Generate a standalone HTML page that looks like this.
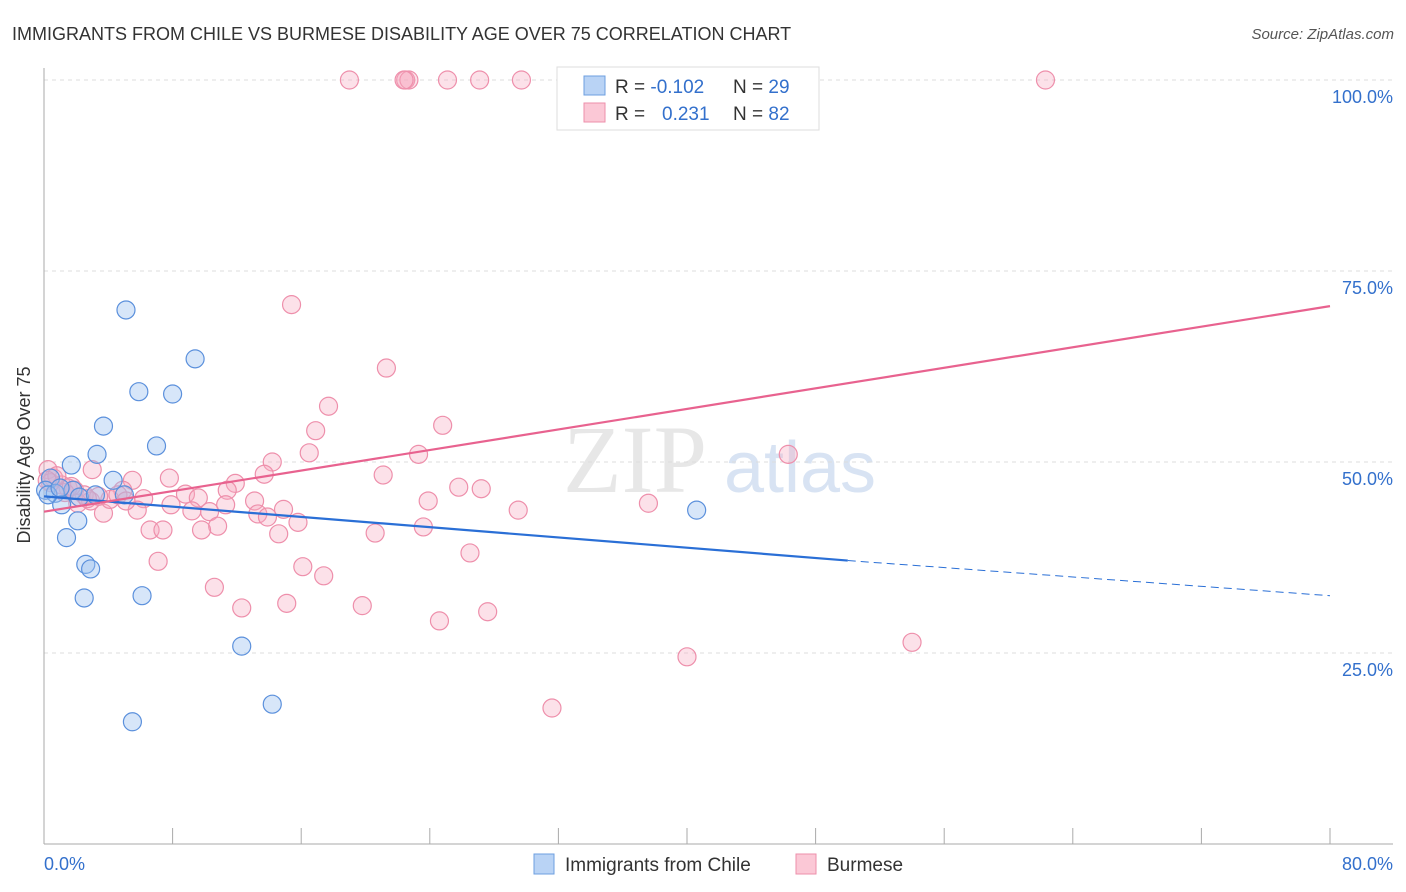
<!DOCTYPE html>
<html><head><meta charset="utf-8"><style>
body{margin:0;background:#fff;font-family:"Liberation Sans",sans-serif}
#c{position:relative;width:1406px;height:892px;overflow:hidden}
</style></head><body>
<div id="c">
<svg id="s" width="1406" height="892" xmlns="http://www.w3.org/2000/svg">
<text x="12" y="40" font-size="18" fill="#333">IMMIGRANTS FROM CHILE VS BURMESE DISABILITY AGE OVER 75 CORRELATION CHART</text>
<text x="1394" y="39" font-size="15" fill="#555" font-style="italic" text-anchor="end">Source: ZipAtlas.com</text>
<g>
<text x="635" y="492" font-size="96" fill="#ddd" font-family="Liberation Serif" text-anchor="middle" opacity="0.7">ZIP</text>
<text x="800" y="492" font-size="72" fill="#c8d8ee" text-anchor="middle" opacity="0.7">atlas</text>
</g>
<g id="grid"></g><g id="axes"></g><g id="pts"></g><g id="lines"></g>
<text x="30" y="455" font-size="18" fill="#333" transform="rotate(-90 30 455)" text-anchor="middle">Disability Age Over 75</text>
<g>
<rect x="557" y="67" width="262" height="63" fill="#fff" stroke="#ddd"/>
<rect x="584" y="76" width="21" height="19" fill="#b9d3f5" stroke="#6d9fe0"/>
<rect x="584" y="103" width="21" height="19" fill="#fbc8d6" stroke="#ee8fab"/>
<text x="615" y="93" font-size="19" fill="#333">R = <tspan fill="#3370cc">-0.102</tspan></text>
<text x="733" y="93" font-size="19" fill="#333">N = <tspan fill="#3370cc">29</tspan></text>
<text x="615" y="120" font-size="19" fill="#333">R = </text><text x="662" y="120" font-size="19" fill="#3370cc">0.231</text>
<text x="733" y="120" font-size="19" fill="#333">N = <tspan fill="#3370cc">82</tspan></text>
</g>
<g>
<rect x="534" y="854" width="20" height="20" fill="#b9d3f5" stroke="#6d9fe0"/>
<text x="565" y="871" font-size="19" fill="#333">Immigrants from Chile</text>
<rect x="796" y="854" width="20" height="20" fill="#fbc8d6" stroke="#ee8fab"/>
<text x="827" y="871" font-size="19" fill="#333">Burmese</text>
</g>
</svg></div>
<script>
const yTicks=[25,50,75,100];
const yTickLabels=["25.0%","50.0%","75.0%","100.0%"];
const xTicks=[0,8,16,24,32,40,48,56,64,72,80];
const chileX=[5.1,9.4,5.9,8.0,3.7,7.0,3.3,1.7,4.3,0.4,0.1,0.7,1.1,1.8,2.2,3.2,5.0,2.1,1.4,2.6,2.9,2.5,6.1,12.3,14.2,5.5,40.6,0.25,1.0];
const chileY=[69.9,63.5,59.2,58.9,54.7,52.1,51.0,49.6,47.6,47.9,46.3,45.9,44.4,46.3,45.4,45.7,45.7,42.3,40.1,36.6,36.0,32.2,32.5,25.9,18.3,16.0,43.7,45.7,46.6];
const burX=[19.0,22.5,22.7,25.1,27.1,29.7,62.3,22.4,15.4,21.3,17.7,24.8,16.9,16.5,23.3,46.3,14.2,3.0,13.7,21.1,7.8,5.5,11.9,25.8,27.2,11.4,8.8,4.9,9.6,6.2,13.1,23.9,37.6,11.3,7.9,14.9,29.5,9.2,10.3,5.8,3.7,13.3,13.9,15.8,10.8,6.6,7.4,9.8,23.6,20.6,14.6,26.5,7.1,16.1,17.4,10.6,15.1,12.3,19.8,27.6,24.6,54.0,40.0,31.6,
0.25,0.6,1.1,1.5,1.9,2.5,2.9,4.1,4.6,5.1,0.4,1.3,2.1,3.4,0.8,1.7,2.7,0.2];
const burY=[100,100,100,100,100,100,100,100,70.6,62.3,57.3,54.8,54.1,51.2,51.0,51.0,50.0,49.0,48.4,48.3,47.9,47.6,47.2,46.7,46.5,46.3,45.8,46.3,45.3,45.2,44.9,44.9,44.6,44.4,44.4,43.8,43.7,43.6,43.5,43.7,43.3,43.2,42.8,42.1,41.6,41.1,41.1,41.1,41.5,40.7,40.6,38.1,37.0,36.3,35.1,33.6,31.5,30.9,31.2,30.4,29.2,26.4,24.5,17.8,
49.0,47.9,47.0,46.6,46.3,45.7,44.9,45.1,45.7,44.9,47.3,46.0,44.6,45.5,48.2,46.8,45.2,47.6];
const chileTrend=[[0,45.5],[50,37.1],[80,32.5]];
const burTrend=[[0,43.5],[80,70.4]];
const NS="http://www.w3.org/2000/svg";
const X=v=>44+v*1286/80, Y=v=>844-v*7.64;
function mk(t,a,p){const e=document.createElementNS(NS,t);for(const k in a)e.setAttribute(k,a[k]);p.appendChild(e);return e;}
const g=document.getElementById('grid'),ax=document.getElementById('axes'),pts=document.getElementById('pts'),ln=document.getElementById('lines');
yTicks.forEach((t,i)=>{const l=mk('line',{x1:44,x2:1393,y1:Y(t),y2:Y(t),stroke:'#ddd','stroke-dasharray':'4 4'},g);

const tx=mk('text',{x:1393,y:Y(t)+23,'font-size':18,fill:'#3370cc','text-anchor':'end'},ax);tx.textContent=yTickLabels[i];
});
const ya=mk('line',{x1:44,x2:44,y1:68,y2:844,stroke:'#aaa'},ax);
const xa=mk('line',{x1:44,x2:1393,y1:844,y2:844,stroke:'#aaa'},ax);
xTicks.forEach(t=>{const l=mk('line',{x1:X(t),x2:X(t),y1:828,y2:844,stroke:'#aaa'},ax);});
const xl0=mk('text',{x:44,y:870,'font-size':18,fill:'#3370cc'},ax);xl0.textContent='0.0%';
const xl1=mk('text',{x:1393,y:870,'font-size':18,fill:'#3370cc','text-anchor':'end'},ax);xl1.textContent='80.0%';
burX.forEach((v,i)=>{const c=mk('circle',{cx:X(v),cy:Y(burY[i]),r:9,fill:'#f7a8bf','fill-opacity':0.35,stroke:'#ee8fab','stroke-width':1.2},pts);
});
chileX.forEach((v,i)=>{const c=mk('circle',{cx:X(v),cy:Y(chileY[i]),r:9,fill:'#9cc0ef','fill-opacity':0.4,stroke:'#5b90dc','stroke-width':1.2},pts);
});
const b1=mk('line',{x1:X(chileTrend[0][0]),y1:Y(chileTrend[0][1]),x2:X(chileTrend[1][0]),y2:Y(chileTrend[1][1]),stroke:'#2a6fd6','stroke-width':2.2},ln);

const b2=mk('line',{x1:X(chileTrend[1][0]),y1:Y(chileTrend[1][1]),x2:X(chileTrend[2][0]),y2:Y(chileTrend[2][1]),stroke:'#2a6fd6','stroke-width':1,'stroke-dasharray':'8 5'},ln);

const p1=mk('line',{x1:X(burTrend[0][0]),y1:Y(burTrend[0][1]),x2:X(burTrend[1][0]),y2:Y(burTrend[1][1]),stroke:'#e8628f','stroke-width':2.2},ln);

</script>
</body></html>
